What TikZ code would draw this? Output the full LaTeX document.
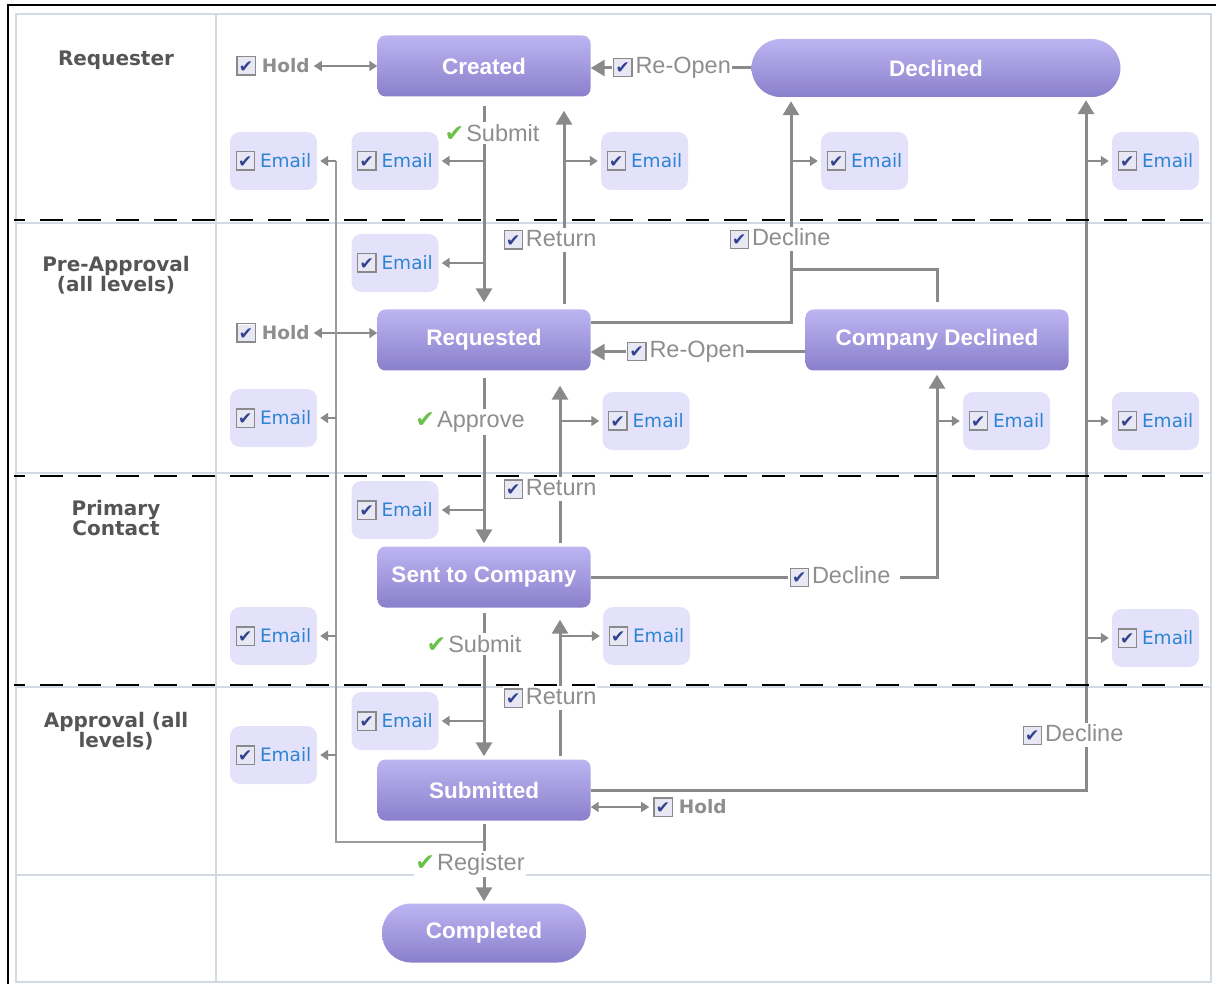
\documentclass[tikz,border=0pt]{standalone}
\usepackage{fontspec}
\setmainfont{Liberation Sans}
\newfontfamily\dejavu{DejaVu Sans}
\usetikzlibrary{arrows.meta,positioning,backgrounds}
\definecolor{statetop}{HTML}{BDB5F2}
\definecolor{statebottom}{HTML}{8A7FCB}
\definecolor{mailfill}{HTML}{E4E2FA}
\definecolor{mailblue}{HTML}{2C84D2}
\definecolor{wiregray}{HTML}{8A8A8A}
\definecolor{labelgray}{HTML}{8E8E8E}
\definecolor{lanegray}{HTML}{555555}
\definecolor{okgreen}{HTML}{6CC14A}
\definecolor{gridline}{HTML}{D3DAE3}
\definecolor{cbedge}{HTML}{8A8A8A}
\definecolor{cbfill}{HTML}{E8E8F4}
\definecolor{cbtick}{HTML}{33428F}

% ticked check box and green tick
\newcommand{\cbx}{\raisebox{-2pt}{\setlength{\fboxsep}{0pt}\setlength{\fboxrule}{1.2pt}\fcolorbox{cbedge}{cbfill}{\makebox[17pt]{\rule{0pt}{17pt}\raisebox{2pt}{\dejavu\fontsize{17pt}{17pt}\selectfont\color{cbtick}✔}}}}}
\newcommand{\okmark}{{\dejavu\color{okgreen}✔}}

\begin{document}
\begin{tikzpicture}[x=1pt, y=-1pt,
    stbox/.style={rounded corners=8pt, top color=statetop, bottom color=statebottom, minimum width=213pt, minimum height=61pt, text=white, font=\fontsize{22.5pt}{24pt}\selectfont\bfseries},
    pill/.style={rounded corners=29pt},
    mail/.style={rounded corners=10pt, fill=mailfill, minimum width=87pt, minimum height=58pt, inner sep=0pt, text=mailblue, font=\dejavu\fontsize{18.5pt}{20pt}\selectfont},
    cond/.style={fill=white, inner xsep=1pt, inner ysep=2pt, text=labelgray, font=\fontsize{23.5pt}{24pt}\selectfont},
    holdlbl/.style={inner sep=1pt, text=labelgray, font=\dejavu\bfseries\fontsize{18.5pt}{20pt}\selectfont},
    lane/.style={align=center, text=lanegray, font=\dejavu\bfseries\fontsize{20pt}{20pt}\selectfont},
    flow/.style={draw=wiregray, line width=3pt, -{Triangle[width=16pt,length=14pt]}},
    wire/.style={draw=wiregray, line width=3pt},
    tap/.style={draw=wiregray, line width=1.8pt, shorten >=3pt, -{Triangle[width=10pt,length=8pt]}},
    twoway/.style={draw=wiregray, line width=1.8pt, {Triangle[width=10pt,length=8pt]}-{Triangle[width=10pt,length=8pt]}},
    trunk/.style={draw=wiregray!85, line width=1.8pt},
    gridrule/.style={draw=gridline, line width=1.5pt},
    lanesep/.style={draw=black, line width=1.4pt, dash pattern=on 23pt off 15pt, dash phase=12pt}]
  \useasboundingbox (0,0) rectangle (1216,984);

  % Lane titles
  \node[lane] (lane1) at (116,60) {Requester};
  \node[lane] (lane2) at (116,275) {Pre-Approval\\(all levels)};
  \node[lane] (lane3) at (116,518) {Primary\\Contact};
  \node[lane] (lane4) at (116,731) {Approval (all\\levels)};

  % States
  \node[stbox] (created) at (484,66) {Created};
  \node[stbox, pill, minimum width=369pt, minimum height=58pt] (declined) at (936,68) {Declined};
  \node[stbox] (requested) at (484,340) {Requested};
  \node[stbox, minimum width=263pt] (compdecl) at (937,340) {Company Declined};
  \node[stbox] (sent) at (484,577) {Sent to Company};
  \node[stbox] (submitted) at (484,790) {Submitted};
  \node[stbox, pill, minimum width=204pt, minimum height=59pt] (completed) at (484,933) {Completed};

  % Email notifications
  \node[mail] (e1) at (273.5,161) {\cbx\hspace{5pt}Email};
  \node[mail] (e2) at (395,161) {\cbx\hspace{5pt}Email};
  \node[mail] (e3) at (644.5,161) {\cbx\hspace{5pt}Email};
  \node[mail] (e4) at (864.5,161) {\cbx\hspace{5pt}Email};
  \node[mail] (e5) at (1155.5,161) {\cbx\hspace{5pt}Email};
  \node[mail] (e6) at (395,263) {\cbx\hspace{5pt}Email};
  \node[mail] (e7) at (273.5,418) {\cbx\hspace{5pt}Email};
  \node[mail] (e8) at (646,421) {\cbx\hspace{5pt}Email};
  \node[mail] (e9) at (1006.5,421) {\cbx\hspace{5pt}Email};
  \node[mail] (e10) at (1155.5,421) {\cbx\hspace{5pt}Email};
  \node[mail] (e11) at (395,510) {\cbx\hspace{5pt}Email};
  \node[mail] (e12) at (273.5,636) {\cbx\hspace{5pt}Email};
  \node[mail] (e13) at (646.5,636) {\cbx\hspace{5pt}Email};
  \node[mail] (e14) at (1155.5,638) {\cbx\hspace{5pt}Email};
  \node[mail] (e15) at (395,721) {\cbx\hspace{5pt}Email};
  \node[mail] (e16) at (273.5,755) {\cbx\hspace{5pt}Email};

  % Actions
  \node[holdlbl] (holdA) at (273,66) {\cbx\hspace{6pt}Hold};
  \node[cond] (reopenA) at (672,68) {\cbx\hspace{3pt}Re-Open};
  \node[cond] (submitA) at (492,133) {\okmark\hspace{2pt}Submit};
  \node[cond] (returnA) at (550,240) {\cbx\hspace{3pt}Return};
  \node[cond] (declineA) at (780,239) {\cbx\hspace{3pt}Decline};
  \node[holdlbl] (holdB) at (273,333) {\cbx\hspace{6pt}Hold};
  \node[cond] (reopenB) at (686,352) {\cbx\hspace{3pt}Re-Open};
  \node[cond] (approve) at (470,422) {\okmark\hspace{2pt}Approve};
  \node[cond] (returnB) at (550,489) {\cbx\hspace{3pt}Return};
  \node[cond] (declineB) at (840,577) {\cbx\hspace{3pt}Decline};
  \node[cond] (submitB) at (474,644) {\okmark\hspace{2pt}Submit};
  \node[cond] (returnC) at (550,698) {\cbx\hspace{3pt}Return};
  \node[holdlbl] (holdC) at (690,807) {\cbx\hspace{6pt}Hold};
  \node[cond] (declineC) at (1073,735) {\cbx\hspace{3pt}Decline};
  \node[cond] (register) at (470,864) {\okmark\hspace{2pt}Register};

  % Junctions
  \coordinate (rA) at (564,0);
  \coordinate (rB) at (560,0);
  \coordinate (rC) at (560,0);
  \coordinate (decA) at (791,270);
  \coordinate (decC) at (1086,790);
  \coordinate (trunk) at (336,842);

  \begin{scope}[on background layer]
    % table
    \draw[gridrule] (16,14) rectangle (1211,982);
    \draw[gridrule] (216,14) -- (216,982);
    \foreach \y in {223,473,687,875} \draw[gridrule] (16,\y) -- (1211,\y);
    \draw[black, line width=1.5pt] (8,984) -- (8,5) -- (1216,5);

    % Requester
    \draw[twoway, shorten <=3pt] (holdA.east) -- (holdA.east -| created.west);
    \draw[wire] (declined.west) -- (reopenA.east);
    \draw[flow] (reopenA.west) -- (reopenA.west -| created.east);
    \draw[flow, shorten <=9pt, shorten >=7pt] (created) -- (requested);
    \draw[tap] (created.south |- e2.east) -- (e2.east);
    \draw[tap] (created.south |- e6.east) -- (e6.east);
    \draw[flow, shorten <=5pt, shorten >=14pt] (rA |- requested.north) -- (rA |- created.south);
    \draw[tap] (rA |- e3.west) -- (e3.west);
    \draw[flow, shorten >=4pt] ([yshift=17pt]requested.east) -| (decA) -- (decA |- declined.south);
    \draw[wire, shorten <=7pt] (compdecl.north) |- (decA);
    \draw[tap] (decA |- e4.west) -- (e4.west);

    % Decline from Submitted
    \draw[flow, shorten >=3pt] (submitted.east) -- (decC) -- (decC |- declined.south);
    \foreach \m in {e5,e10,e14} \draw[tap] (decC |- \m.west) -- (\m.west);

    % Pre-Approval
    \draw[twoway, shorten <=3pt] (holdB.east) -- (holdB.east -| requested.west);
    \draw[wire] ([yshift=-12pt]compdecl.west) -- (reopenB.east);
    \draw[flow] (reopenB.west) -- (reopenB.west -| requested.east);
    \draw[flow, shorten <=7pt, shorten >=3pt] (requested) -- (sent);
    \draw[tap] (requested.south |- e11.east) -- (e11.east);
    \draw[flow, shorten <=3pt, shorten >=15pt] (rB |- sent.north) -- (rB |- requested.south);
    \draw[tap] (rB |- e8.west) -- (e8.west);

    % Primary Contact
    \draw[wire] (sent.east) -- (sent.east -| declineB.west);
    \draw[flow, shorten <=8pt, shorten >=4pt] (declineB.east) -| (compdecl.south);
    \draw[tap] (compdecl.south |- e9.west) -- (e9.west);
    \draw[flow, shorten <=5pt, shorten >=3pt] (sent) -- (submitted);
    \draw[tap] (sent.south |- e15.east) -- (e15.east);
    \draw[flow, shorten <=3pt, shorten >=12pt] (rC |- submitted.north) -- (rC |- sent.south);
    \draw[tap] (rC |- e13.west) -- (e13.west);

    % Approval
    \draw[twoway, shorten >=3pt] (holdC.west -| submitted.east) -- (holdC.west);
    \draw[flow, shorten <=3pt, shorten >=2pt] (submitted) -- (completed);
    \draw[trunk] (submitted.south |- trunk) -- (trunk) -- (trunk |- e1.east);
    \foreach \m in {e1,e7,e12,e16} \draw[tap] (trunk |- \m.east) -- (\m.east);
  \end{scope}

  % Lane separators
  \foreach \y in {220,476,685} \draw[lanesep] (14,\y) -- (1216,\y);
\end{tikzpicture}
\end{document}
